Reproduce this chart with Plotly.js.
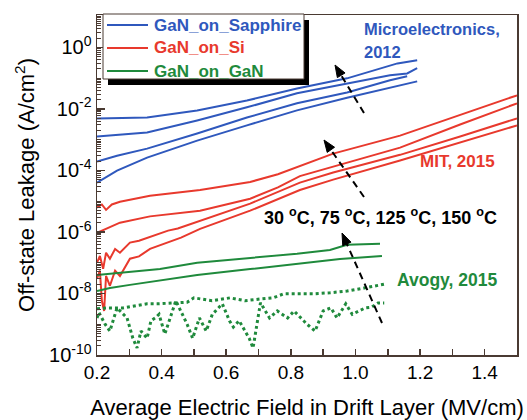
<!DOCTYPE html>
<html>
<head>
<meta charset="utf-8">
<script src="https://cdn.plot.ly/plotly-3.0.1.min.js"></script>
<style>html,body{margin:0;padding:0;background:#fff;}#chart{width:527px;height:420px;}</style>
</head>
<body>
<div id="chart"></div>
<script>
// ---- Data ----
// GaN on Sapphire (Microelectronics, 2012), 30/75/125/150 C
var sapX1 = [0.2, 0.355, 0.51, 0.664, 0.819, 0.974, 1.13, 1.191];
var sapY1 = [4.9e-3, 5.2e-3, 8.9e-3, 1.86e-2, 4.6e-2, 9.8e-2, 0.30, 0.38];
var sapX2 = [0.2, 0.355, 0.51, 0.664, 0.819, 0.974, 1.107, 1.16, 1.191];
var sapY2 = [1.26e-3, 1.7e-3, 4.2e-3, 1.12e-2, 3.2e-2, 6.8e-2, 0.123, 0.141, 0.209];
var sapX3 = [0.2, 0.262, 0.355, 0.51, 0.664, 0.819, 0.974, 1.107, 1.16];
var sapY3 = [1.95e-4, 3.0e-4, 5.1e-4, 1.58e-3, 5.2e-3, 1.51e-2, 3.4e-2, 8.5e-2, 0.115];
var sapX4 = [0.2, 0.262, 0.355, 0.51, 0.664, 0.819, 0.974, 1.191];
var sapY4 = [4.0e-5, 9.8e-5, 2.6e-4, 9.3e-4, 2.9e-3, 8.9e-3, 2.3e-2, 7.8e-2];

// GaN on Si (MIT, 2015)
var siX1 = [0.2, 0.215, 0.228, 0.246, 0.271, 0.364, 0.519, 0.674, 0.76, 0.828, 0.931, 1.138, 1.324, 1.5];
var siY1 = [6.2e-6, 7.8e-6, 5.2e-6, 7.8e-6, 9.5e-6, 1.5e-5, 2.3e-5, 4.2e-5, 7.5e-5, 1.4e-4, 3.5e-4, 1.35e-3, 6.2e-3, 2.75e-2];
var siX2 = [0.2, 0.24, 0.271, 0.364, 0.519, 0.674, 0.76, 0.828, 0.931, 1.138, 1.324, 1.5];
var siY2 = [9.3e-7, 1.48e-6, 2.0e-6, 3.2e-6, 4.9e-6, 1.2e-5, 2.8e-5, 6.5e-5, 1.32e-4, 5.5e-4, 3.1e-3, 1.51e-2];
var siX3 = [0.2, 0.209, 0.219, 0.228, 0.24, 0.256, 0.271, 0.302, 0.33, 0.364, 0.42, 0.45, 0.519, 0.674, 0.828, 0.931, 1.138, 1.324, 1.5];
var siY3 = [1.0e-7, 1.66e-7, 6.3e-8, 2.1e-7, 1.35e-7, 2.8e-7, 2.1e-7, 4.5e-7, 5.2e-7, 6.9e-7, 1.1e-6, 1.3e-6, 2.3e-6, 8.3e-6, 4.0e-5, 8.5e-5, 3.2e-4, 1.26e-3, 4.9e-3];
var siX4 = [0.2, 0.209, 0.215, 0.222, 0.228, 0.24, 0.256, 0.271, 0.302, 0.33, 0.364, 0.43, 0.46, 0.519, 0.674, 0.828, 0.931, 1.138, 1.324, 1.5];
var siY4 = [3.0e-8, 5.5e-8, 5.8e-9, 2.7e-9, 3.7e-8, 1.78e-8, 5.5e-8, 3.7e-8, 1.35e-7, 1.6e-7, 2.8e-7, 5.0e-7, 6.5e-7, 1.26e-6, 4.9e-6, 2.3e-5, 5.0e-5, 2.1e-4, 8.1e-4, 2.9e-3];

// GaN on GaN (Avogy, 2015)
var ganX1 = [0.2, 0.302, 0.395, 0.51, 0.674, 0.819, 0.921, 0.953, 0.974, 1.076];
var ganY1 = [4.0e-8, 5.0e-8, 6.2e-8, 1.0e-7, 1.45e-7, 1.95e-7, 2.6e-7, 3.3e-7, 3.8e-7, 4.1e-7];
var ganX2 = [0.2, 0.24, 0.302, 0.51, 0.674, 0.819, 0.952, 1.082];
var ganY2 = [1.2e-8, 1.5e-8, 1.9e-8, 4.0e-8, 6.2e-8, 9.1e-8, 1.32e-7, 1.66e-7];
var ganX3 = [0.2, 0.231, 0.28, 0.355, 0.386, 0.479, 0.5, 0.556, 0.612, 0.658, 0.705, 0.745, 0.779, 0.819, 0.872, 0.921, 0.974, 1.027, 1.089];
var ganY3 = [3.2e-9, 3.4e-9, 3.4e-9, 4.6e-9, 4.6e-9, 5.2e-9, 7.2e-9, 5.8e-9, 7.2e-9, 5.8e-9, 6.6e-9, 7.2e-9, 9.8e-9, 9.8e-9, 9.8e-9, 1.05e-8, 1.2e-8, 1.5e-8, 2.0e-8];
var ganX4 = [0.2, 0.206, 0.225, 0.24, 0.262, 0.293, 0.311, 0.324, 0.336, 0.355, 0.367, 0.38, 0.392, 0.41, 0.444, 0.479, 0.496, 0.517, 0.538, 0.557, 0.588, 0.61, 0.622, 0.64, 0.671, 0.683, 0.706, 0.715, 0.72, 0.734, 0.758, 0.79, 0.81, 0.85, 0.875, 0.9, 0.924, 0.943, 0.97, 0.99, 1.03, 1.05, 1.07, 1.089];
var ganY4 = [1.6e-9, 2.4e-9, 1.0e-9, 6.0e-10, 3.4e-9, 1.6e-9, 3.5e-10, 1.7e-10, 6.0e-10, 3.5e-10, 1.3e-9, 1.6e-9, 2.1e-9, 4.8e-10, 5.8e-9, 1.0e-9, 3.5e-10, 1.6e-9, 6.0e-10, 2.1e-9, 4.6e-9, 1.3e-9, 8.1e-10, 1.3e-9, 3.5e-10, 1.7e-10, 5.0e-9, 3.4e-9, 2.7e-9, 1.6e-9, 2.7e-9, 1.6e-9, 2.7e-9, 1.0e-9, 6.0e-10, 2.7e-9, 3.4e-9, 1.6e-9, 4.6e-9, 2.1e-9, 3.4e-9, 3.6e-9, 4.9e-9, 4.9e-9];

var seriesNames = ['GaN_on_Sapphire', 'GaN_on_Si', 'GaN_on_GaN'];
var seriesColors = ['#2f58bd', '#e8392d', '#1f8a3c'];

var yTickVals = [1e-10, 1e-8, 1e-6, 1e-4, 1e-2, 1e0];
var yTickText = ['10<sup>-10</sup>', '10<sup>-8</sup>', '10<sup>-6</sup>', '10<sup>-4</sup>', '10<sup>-2</sup>', '10<sup>0</sup>'];
var xTickVals = [0.2, 0.4, 0.6, 0.8, 1.0, 1.2, 1.4];
var xTickText = ['0.2', '0.4', '0.6', '0.8', '1.0', '1.2', '1.4'];

var FONT = 'Liberation Sans, Arial, Helvetica, sans-serif';
var AXC = '#4a3a32';
var PW = 420, PH = 340, PL = 97, PB = 355;   // plot-area geometry in px
function px2x(px) { return (px - PL) / PW; }
function px2y(py) { return (PB - py) / PH; }

function line(x, y, k, dash) {
  return {
    x: x, y: y, type: 'scatter', mode: 'lines',
    line: {color: seriesColors[k], width: dash ? 3 : 2, dash: dash || 'solid'},
    name: seriesNames[k], legendgroup: seriesNames[k],
    showlegend: false, hoverinfo: 'skip'
  };
}

var data = [
  line(sapX1, sapY1, 0), line(sapX2, sapY2, 0), line(sapX3, sapY3, 0), line(sapX4, sapY4, 0),
  line(siX1, siY1, 1), line(siX2, siY2, 1), line(siX3, siY3, 1), line(siX4, siY4, 1),
  line(ganX1, ganY1, 2), line(ganX2, ganY2, 2), line(ganX3, ganY3, 2, 'dot'), line(ganX4, ganY4, 2, 'dot')
];

var shapes = [];
var annotations = [];

// ---- legend box with drop shadow ----
shapes.push({type: 'rect', xref: 'paper', yref: 'paper', x0: px2x(108), x1: px2x(309), y0: px2y(85), y1: px2y(20),
  fillcolor: '#000', line: {width: 0}, layer: 'above'});
shapes.push({type: 'rect', xref: 'paper', yref: 'paper', x0: px2x(103), x1: px2x(304), y0: px2y(79), y1: px2y(14),
  fillcolor: '#fff', line: {color: AXC, width: 1}, layer: 'above'});
var legendRows = [25, 48, 71];
seriesNames.forEach(function (nm, k) {
  shapes.push({type: 'line', xref: 'paper', yref: 'paper', x0: px2x(107), x1: px2x(148),
    y0: px2y(legendRows[k]), y1: px2y(legendRows[k]), line: {color: seriesColors[k], width: 2}, layer: 'above'});
  annotations.push({xref: 'paper', yref: 'paper', x: px2x(152), y: px2y(legendRows[k]),
    xanchor: 'left', yanchor: 'middle', showarrow: false, text: '<b>' + nm + '</b>',
    font: {family: FONT, size: 17, color: seriesColors[k]}});
});

// ---- dashed arrows (pixel positions in the figure): tail -> tip ----
var arrows = [
  {tx: 364, ty: 113, hx: 335, hy: 65},
  {tx: 364, ty: 197, hx: 324, hy: 140},
  {tx: 382, ty: 323, hx: 342, hy: 233}
];
arrows.forEach(function (a) {
  var dx = a.hx - a.tx, dy = a.hy - a.ty;
  var L = Math.sqrt(dx * dx + dy * dy);
  var ux = dx / L, uy = dy / L, nx = -uy, ny = ux;
  var headLen = 12, headHalf = 4.5;
  var bx = a.hx - ux * headLen, by = a.hy - uy * headLen;
  shapes.push({type: 'line', xref: 'paper', yref: 'paper',
    x0: px2x(a.tx), y0: px2y(a.ty), x1: px2x(bx + ux * 2), y1: px2y(by + uy * 2),
    line: {color: '#000', width: 2, dash: '7px,5px'}, layer: 'above'});
  var p = 'M' + px2x(a.hx) + ',' + px2y(a.hy) +
    ' L' + px2x(bx + nx * headHalf) + ',' + px2y(by + ny * headHalf) +
    ' L' + px2x(bx - nx * headHalf) + ',' + px2y(by - ny * headHalf) + ' Z';
  shapes.push({type: 'path', xref: 'paper', yref: 'paper', path: p,
    fillcolor: '#000', line: {color: '#000', width: 1}, layer: 'above'});
});

function label(txt, px, py, color, size) {
  return {xref: 'paper', yref: 'paper', x: px2x(px), y: px2y(py),
    xanchor: 'left', yanchor: 'middle', showarrow: false,
    text: '<b>' + txt + '</b>', font: {family: FONT, size: size, color: color}};
}
annotations.push(label('Microelectronics,', 362, 29, seriesColors[0], 16.5));
annotations.push(label('2012', 362, 52, seriesColors[0], 16.5));
annotations.push(label('MIT, 2015', 418, 161, seriesColors[1], 17));
annotations.push(label('30 <sup>o</sup>C, 75 <sup>o</sup>C, 125 <sup>o</sup>C, 150 <sup>o</sup>C', 262, 216, '#000', 18));
annotations.push(label('Avogy, 2015', 395, 280, seriesColors[2], 17.5));

var layout = {
  width: 527, height: 420,
  margin: {l: 97, r: 10, t: 15, b: 65},
  paper_bgcolor: '#fff', plot_bgcolor: '#fff',
  font: {family: FONT, color: '#000'},
  showlegend: false,
  xaxis: {
    range: [0.2, 1.5], tickvals: xTickVals, ticktext: xTickText,
    ticks: 'inside', ticklen: 6, tickwidth: 1.5, tickcolor: AXC,
    minor: {dtick: 0.1, tick0: 0.2, ticks: 'inside', ticklen: 6, tickwidth: 1.5, tickcolor: AXC},
    showline: true, mirror: true, linecolor: AXC, linewidth: 1.5,
    showgrid: false, zeroline: false,
    tickfont: {family: FONT, size: 19, color: '#000'},
    title: {text: 'Average Electric Field in Drift Layer (MV/cm)', font: {family: FONT, size: 22, color: '#000'}, standoff: 17}
  },
  yaxis: {
    type: 'log', range: [-10, 1.05], tickvals: yTickVals, ticktext: yTickText,
    ticks: 'inside', ticklen: 8, tickwidth: 1.5, tickcolor: AXC,
    minor: {dtick: 'D1', ticks: 'inside', ticklen: 4, tickwidth: 1, tickcolor: AXC},
    showline: true, mirror: true, linecolor: AXC, linewidth: 1.5,
    showgrid: false, zeroline: false,
    tickfont: {family: FONT, size: 20, color: '#000'},
    title: {text: 'Off-state Leakage (A/cm<sup>2</sup>)', font: {family: FONT, size: 22, color: '#000'}, standoff: 8}
  },
  shapes: shapes,
  annotations: annotations
};

Plotly.newPlot('chart', data, layout, {staticPlot: true, displayModeBar: false});
</script>
</body>
</html>
